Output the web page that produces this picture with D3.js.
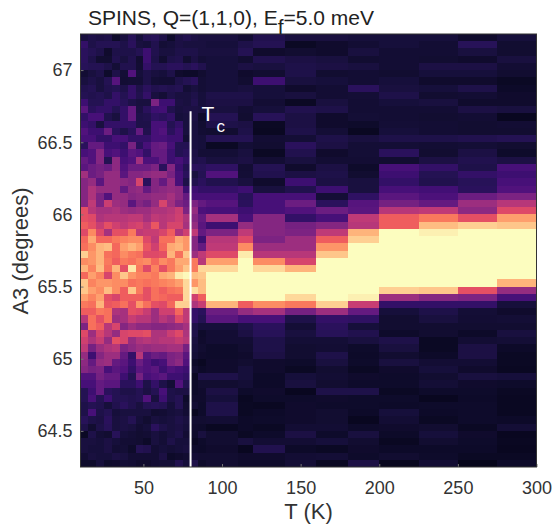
<!DOCTYPE html>
<html>
<head>
<meta charset="utf-8">
<script src="https://cdn.jsdelivr.net/npm/d3@7"></script>
<style>
    body { margin: 0; background: #fff; }
    text { font-family: "Liberation Sans", Arial, sans-serif; }
</style>
</head>
<body>
<div id="chart"></div>
<script>

// Temperature bin edges (K)
var tempEdges = [10,15,20,25,30,35,40,45,50,55,60,65,70,75,80,85,90,110,120,140,160,180,200,225,250,275,300];

// A3 scan points (degrees), top row first
var a3Points = [67.225,67.175,67.125,67.075,67.025,66.975,66.925,66.875,66.825,66.775,
    66.725,66.675,66.625,66.575,66.525,66.475,66.425,66.375,66.325,66.275,
    66.225,66.175,66.125,66.075,66.025,65.975,65.925,65.875,65.825,65.775,
    65.725,65.675,65.625,65.575,65.525,65.475,65.425,65.375,65.325,65.275,
    65.225,65.175,65.125,65.075,65.025,64.975,64.925,64.875,64.825,64.775,
    64.725,64.675,64.625,64.575,64.525,64.475,64.425,64.375,64.325,64.275];

// Intensity, one row per A3 point, one value per T bin
var intensity = [
[12,14,13,14,6,12,17,11,16,17,14,6,13,15, 13,12,12,9,15,12,12,11,11,11,7,11],
[20,14,16,16,16,14,18,12,11,15,10,11,13,12, 12,12,11,14,16,4,7,9,11,9,17,8],
[18,16,14,7,14,14,14,16,22,15,12,12,14,14, 14,12,12,16,7,8,7,12,9,9,12,8],
[18,14,8,8,15,12,15,8,22,14,8,14,15,8, 13,10,11,8,15,13,12,8,9,8,7,12],
[17,16,16,14,10,15,15,9,20,16,16,18,18,16, 18,15,11,13,12,14,13,12,9,13,13,9],
[9,12,14,6,14,10,26,11,14,12,11,14,7,5, 5,8,11,7,8,14,8,9,8,11,11,8],
[12,14,12,16,27,9,10,10,14,10,9,9,14,16, 18,10,11,8,22,12,11,9,11,7,7,4],
[15,16,12,15,16,14,20,14,18,15,16,15,16,10, 12,10,11,12,11,7,9,18,12,11,14,5],
[16,15,16,14,20,16,20,15,20,12,10,14,12,12, 14,11,14,14,11,12,9,10,14,8,9,7],
[22,16,16,20,20,17,14,12,12,36,22,22,13,12, 15,11,13,13,9,4,12,9,11,12,7,7],
[28,18,20,20,16,20,30,13,18,22,23,15,12,13, 13,12,12,9,11,15,14,9,9,9,13,12],
[20,24,24,15,12,20,30,14,15,19,18,20,11,12, 13,6,16,8,17,13,7,10,9,8,9,2],
[22,20,12,20,20,20,20,14,14,24,24,16,20,12, 12,8,14,13,4,13,7,6,10,9,8,9],
[26,22,22,32,18,14,18,30,15,24,26,18,22,12, 12,9,8,14,3,14,10,3,11,9,8,8],
[24,24,20,20,24,24,20,20,20,24,24,22,22,10, 12,11,16,16,9,10,14,12,14,14,15,16],
[18,30,30,22,22,20,35,18,24,30,32,24,16,16, 12,11,4,10,8,18,13,10,10,9,10,8],
[24,26,38,24,26,22,28,26,20,30,30,22,16,18, 13,10,10,12,4,15,7,10,18,8,13,6],
[30,26,38,16,40,24,26,45,25,25,30,22,24,20, 14,15,12,13,9,12,9,9,8,13,15,13],
[28,32,34,32,40,26,32,32,32,36,18,38,22,16, 18,17,19,9,16,7,13,6,24,20,14,24],
[45,32,35,42,42,28,38,38,40,42,42,35,24,18, 12,16,26,10,15,13,14,8,22,16,20,22],
[38,42,28,42,42,40,38,58,18,38,30,42,24,14, 15,18,15,12,7,22,13,12,20,15,17,24],
[38,48,42,42,42,30,40,42,30,38,40,42,40,22, 22,20,20,22,12,15,22,12,24,23,18,26],
[38,48,36,26,42,42,38,40,40,42,42,46,40,30, 24,24,24,17,24,24,10,19,28,25,32,36],
[38,52,36,55,44,42,28,38,34,42,58,45,36,32, 36,30,27,18,24,32,18,27,34,30,44,50],
[62,50,46,46,48,44,42,44,44,48,48,50,55,36, 42,25,24,22,24,26,32,28,50,52,40,60],
[62,60,48,50,50,50,52,52,46,52,50,52,56,48, 38,30,46,24,38,20,24,52,66,72,62,80],
[66,62,54,62,56,52,56,58,52,64,50,58,58,46, 42,28,22,42,38,34,38,50,66,86,90,88],
[60,75,60,46,62,62,72,52,54,54,58,66,48,56, 52,30,36,52,38,36,52,84,100,97,100,100],
[68,82,68,68,72,74,76,76,60,52,70,70,82,78, 38,22,50,60,36,44,66,90,100,100,100,100],
[70,76,84,86,68,80,84,80,64,56,68,82,84,78, 38,30,52,76,44,44,78,100,100,100,100,100],
[90,78,84,70,68,76,72,70,60,60,62,84,70,88, 44,52,60,96,50,50,88,100,100,100,100,100],
[76,78,84,72,66,72,70,74,76,68,76,72,82,82, 72,50,80,100,76,58,100,100,100,100,100,100],
[84,74,86,70,84,62,95,72,60,74,62,72,80,88, 72,92,92,100,92,84,100,100,100,100,100,100],
[68,80,74,58,76,88,78,74,74,72,82,84,96,99, 86,88,100,100,100,100,100,100,100,100,100,100],
[88,74,78,78,76,76,70,72,70,72,74,76,80,92, 78,86,100,100,100,100,100,100,100,100,100,84],
[88,80,76,86,76,66,88,72,62,70,66,70,72,92, 93,86,100,100,100,100,100,100,90,88,62,42],
[80,74,80,62,58,66,66,66,62,70,68,66,66,92, 56,66,100,100,100,92,100,97,44,38,36,24],
[72,70,84,64,66,70,62,78,70,62,60,68,90,90, 48,54,84,66,76,72,90,54,20,20,20,11],
[66,66,72,70,48,46,62,60,54,44,56,56,68,52, 20,18,32,42,46,34,44,30,11,14,10,7],
[50,70,62,70,44,46,54,50,50,44,50,46,60,52, 20,16,28,24,24,14,20,19,8,12,9,10],
[36,70,66,50,58,38,44,40,40,38,38,40,42,46, 14,11,11,14,18,10,18,11,8,8,8,8],
[60,44,58,50,42,58,60,60,62,48,48,55,60,48, 14,6,9,13,17,12,17,15,6,8,5,12],
[56,48,54,42,62,58,42,48,50,48,50,50,54,50, 12,7,9,9,14,10,10,12,14,4,9,10],
[52,34,44,48,50,36,40,44,42,44,44,46,46,34, 11,8,6,8,14,8,9,6,12,4,13,5],
[42,22,38,44,44,30,20,50,28,32,30,36,38,28, 10,7,6,7,13,8,14,5,8,5,13,4],
[40,30,42,44,30,28,22,32,26,22,24,36,40,26, 5,3,7,8,7,6,12,6,12,9,9,4],
[38,34,36,24,28,26,20,28,26,28,22,26,24,22, 8,5,7,11,7,4,8,4,7,11,7,3],
[26,26,34,30,30,22,16,34,24,26,28,22,22,20, 3,14,14,11,5,11,9,7,6,8,12,11],
[24,24,30,28,28,18,18,22,14,20,14,10,26,16, 5,8,8,10,5,12,8,6,6,10,7,6],
[16,22,30,18,16,14,14,16,13,16,24,14,13,13, 5,7,13,6,7,2,14,14,4,6,6,4],
[16,24,16,22,16,16,15,16,26,12,22,14,16,6, 7,7,11,3,6,6,7,6,6,2,5,3],
[14,16,15,11,15,18,15,12,16,17,16,11,16,8, 9,6,14,4,3,7,6,6,5,6,6,3],
[14,24,14,16,11,12,12,12,12,8,9,11,12,9, 2,6,14,4,5,7,8,5,11,5,6,3],
[17,14,13,18,12,13,16,11,8,12,11,12,14,12, 8,8,9,5,6,7,8,2,9,4,6,5],
[14,8,14,17,12,13,12,9,11,18,14,12,13,11, 7,6,3,5,4,9,9,6,7,8,4,10],
[4,14,10,8,17,11,10,8,9,12,10,12,14,9, 6,12,8,4,6,13,6,12,5,11,7,2],
[12,12,11,13,11,9,9,8,5,12,10,14,11,11, 3,6,8,12,9,9,11,8,3,8,6,3],
[12,11,11,13,9,10,6,16,15,9,11,10,11,12, 6,5,7,2,15,5,4,7,5,5,5,2],
[9,12,11,11,13,12,9,9,9,9,13,5,7,8, 9,8,8,7,7,9,10,6,8,6,4,4],
[6,6,11,6,7,10,9,7,7,9,10,10,15,11, 14,6,8,6,6,10,3,13,1,9,0,5]
];

var tTicks = [50,100,150,200,250,300];
var a3Ticks = [64.5,65,65.5,66,66.5,67];
var tc = 80;
var tcTop = 66.715;

var margin = { top: 34, right: 16.5, bottom: 60, left: 80.5 };
var width = 553 - margin.left - margin.right,
    height = 527 - margin.top - margin.bottom;

var svg = d3.select("#chart").append("svg")
    .attr("width", 553)
    .attr("height", 527)
    .style("display", "block");

var x = d3.scaleLinear().domain([10,300]).range([0,width]);
var y = d3.scaleLinear().domain([64.25,67.25]).range([height,0]);

// colour limits squeeze the dark end of the map
var level = d3.scaleLinear().domain([0,10,20,30,100]).range([0.05,0.10,0.18,0.3,1]);
var color = d => d3.interpolateMagma(level(d));

var g = svg.append("g")
    .attr("transform", "translate(" + margin.left + "," + margin.top + ")");

// half of the A3 step, rows are centred on the scan points
var halfStep = (a3Points[0] - a3Points[1]) / 2;

// Heat map cells
var rows = g.selectAll(".row")
    .data(intensity)
    .enter()
    .append("g")
    .attr("class","row");

rows.selectAll("rect")
    .data((d,i)=>d.map((v,j)=>({v:v,j:j,a3:a3Points[i]})))
    .enter()
    .append("rect")
    .attr("x",d=>x(tempEdges[d.j]))
    .attr("y",d=>y(d.a3+halfStep))
    .attr("width",d=>x(tempEdges[d.j+1])-x(tempEdges[d.j]))
    .attr("height",d=>y(d.a3-halfStep)-y(d.a3+halfStep))
    .attr("shape-rendering","crispEdges")
    .attr("fill",d=>color(d.v));

// Tc marker
g.append("line")
    .attr("x1",x(tc)).attr("x2",x(tc))
    .attr("y1",y(tcTop)).attr("y2",height)
    .attr("stroke","#fff")
    .attr("stroke-width",2);

var tcLabel = g.append("text")
    .attr("x",x(tc)+11)
    .attr("y",y(tcTop)+10)
    .attr("fill","#fff")
    .attr("font-size","21px");
tcLabel.append("tspan").text("T");
tcLabel.append("tspan").attr("dx",2).attr("dy",11).attr("font-size","17px").text("c");

// Axes
var xAxis = d3.axisBottom(x).tickValues(tTicks).tickFormat(d3.format("d")).tickSizeInner(-3).tickSizeOuter(0).tickPadding(14);
var yAxis = d3.axisLeft(y).tickValues(a3Ticks).tickFormat(d=>d).tickSizeInner(-3).tickSizeOuter(0).tickPadding(8);

g.append("g")
    .attr("transform","translate(0," + height + ")")
    .call(xAxis)
    .call(s=>s.select(".domain").remove())
    .call(s=>s.selectAll("line").attr("stroke","#777"))
    .call(s=>s.selectAll("text").attr("font-size","18px").attr("fill","#333").attr("font-family",null));

g.append("g")
    .call(yAxis)
    .call(s=>s.select(".domain").remove())
    .call(s=>s.selectAll("line").attr("stroke","#777"))
    .call(s=>s.selectAll("text").attr("font-size","18px").attr("fill","#333").attr("font-family",null));

// Frame
g.append("rect")
    .attr("width",width)
    .attr("height",height)
    .attr("fill","none")
    .attr("stroke","#333")
    .attr("stroke-width",1);

// Labels
svg.append("text")
    .attr("x",margin.left + width/2)
    .attr("y",519)
    .attr("text-anchor","middle")
    .attr("font-size","22px")
    .attr("fill","#333")
    .text("T (K)");

svg.append("text")
    .attr("transform","translate(28,251) rotate(-90)")
    .attr("text-anchor","middle")
    .attr("font-size","22px")
    .attr("fill","#333")
    .text("A3 (degrees)");

var title = svg.append("text")
    .attr("x",88)
    .attr("y",25)
    .attr("font-size","21px")
    .attr("fill","#222");
title.append("tspan").text("SPINS, Q=(1,1,0), E");
title.append("tspan").attr("dy",9).text("f");
title.append("tspan").attr("dy",-9).text("=5.0 meV");

</script>
</body>
</html>
